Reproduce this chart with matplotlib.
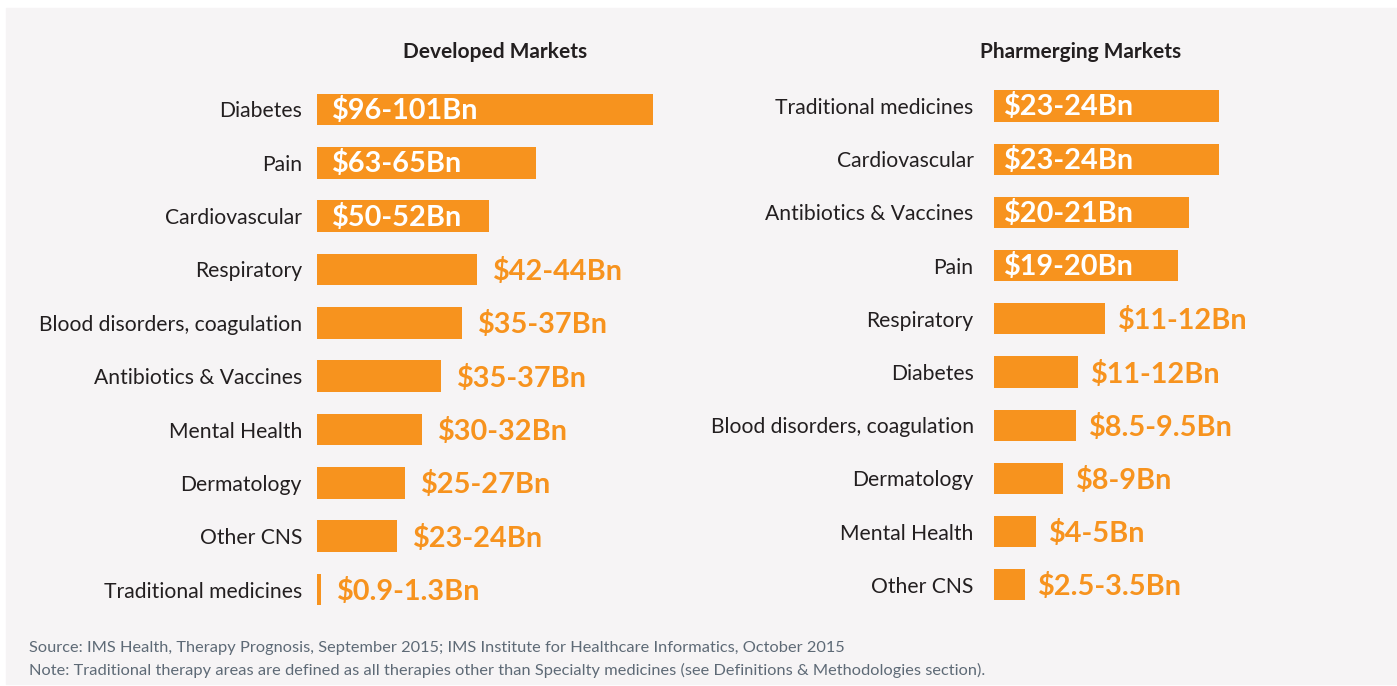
import matplotlib
matplotlib.use("Agg")
from matplotlib import pyplot as plt

ORANGE = '#F7931E'
PANEL = '#F6F4F5'
DARK = '#231F20'
NOTE = '#5E6A76'

# Developed markets (spending ranges, bar length in $Bn as drawn)
dev_areas = ['Diabetes', 'Pain', 'Cardiovascular', 'Respiratory',
             'Blood disorders, coagulation', 'Antibiotics & Vaccines',
             'Mental Health', 'Dermatology', 'Other CNS', 'Traditional medicines']
dev_values = [98.5, 64.2, 50.4, 46.9, 42.5, 36.4, 30.8, 25.9, 23.5, 1.25]
dev_labels = ['$96-101Bn', '$63-65Bn', '$50-52Bn', '$42-44Bn', '$35-37Bn',
              '$35-37Bn', '$30-32Bn', '$25-27Bn', '$23-24Bn', '$0.9-1.3Bn']

# Pharmerging markets
ph_areas = ['Traditional medicines', 'Cardiovascular', 'Antibiotics & Vaccines',
            'Pain', 'Respiratory', 'Diabetes', 'Blood disorders, coagulation',
            'Dermatology', 'Mental Health', 'Other CNS']
ph_values = [23.5, 23.5, 20.4, 19.3, 11.6, 8.8, 8.6, 7.2, 4.4, 3.3]
ph_labels = ['$23-24Bn', '$23-24Bn', '$20-21Bn', '$19-20Bn', '$11-12Bn',
             '$11-12Bn', '$8.5-9.5Bn', '$8-9Bn', '$4-5Bn', '$2.5-3.5Bn']

W, H = 1397, 686
plt.rcParams['font.family'] = ['Lato', 'DejaVu Sans']

fig = plt.figure(figsize=(W / 100, H / 100), dpi=100)
fig.patch.set_facecolor('white')
fig.patches.append(plt.Rectangle((6 / W, 2 / H), 1 - 6 / W, (H - 10) / H,
                                 transform=fig.transFigure, color=PANEL, zorder=-10))


def px(v):
    # pixels -> points at dpi 100
    return v * 0.72


def panel(x0, top, bottom, width, xmax, areas, values, labels, n_inside, pad_in, gap_out, tick_pad):
    ax = fig.add_axes([x0 / W, (H - bottom) / H, width / W, (bottom - top) / H])
    ax.set_facecolor('none')
    pos = list(range(len(areas)))
    ax.barh(pos, values, height=0.59, color=ORANGE)
    ax.set_xlim(0, xmax)
    ax.set_ylim(len(areas) - 0.5, -0.5)
    ax.set_yticks(pos)
    ax.set_yticklabels(areas, fontsize=15.2, color=DARK)
    ax.tick_params(axis='y', length=0, pad=px(tick_pad))
    ax.set_xticks([])
    for s in ax.spines.values():
        s.set_visible(False)
    for i, (v, lab) in enumerate(zip(values, labels)):
        if i < n_inside:
            ax.annotate(lab, xy=(0, i), xytext=(px(pad_in), px(-1)), textcoords='offset points',
                        ha='left', va='center', fontsize=20.8, fontweight='bold', color='white')
        else:
            ax.annotate(lab, xy=(v, i), xytext=(px(gap_out), px(-2)), textcoords='offset points',
                        ha='left', va='center', fontsize=20.8, fontweight='bold', color=ORANGE,
                        annotation_clip=False)
    return ax


panel(317, 82.8, 616.2, 336, 98.5, dev_areas, dev_values, dev_labels, 3, 15, 16, 15)
panel(993.7, 79.4, 611.4, 225, 23.5, ph_areas, ph_values, ph_labels, 4, 10, 13, 20)

fig.text(495.5 / W, 1 - 52 / H, 'Developed Markets', ha='center', va='center',
         fontsize=15, fontweight='bold', color=DARK)
fig.text(1080.7 / W, 1 - 52 / H, 'Pharmerging Markets', ha='center', va='center',
         fontsize=15, fontweight='bold', color=DARK)

fig.text(29 / W, 1 - 648 / H,
         'Source: IMS Health, Therapy Prognosis, September 2015; IMS Institute for Healthcare Informatics, October 2015',
         ha='left', va='center', fontsize=11.8, color=NOTE)
fig.text(29 / W, 1 - 670 / H,
         'Note: Traditional therapy areas are defined as all therapies other than Specialty medicines (see Definitions & Methodologies section).',
         ha='left', va='center', fontsize=11.8, color=NOTE)

fig.savefig('out.png', dpi=100)
